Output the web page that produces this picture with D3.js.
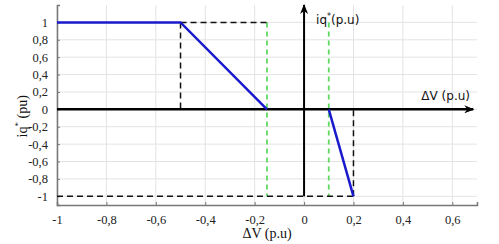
<!DOCTYPE html>
<html>
<head>
<meta charset="utf-8">
<script src="https://cdn.jsdelivr.net/npm/d3@7"></script>
<style>
  body { margin: 0; background: #fff; }
  svg { display: block; }
  .serif { font-family: "Liberation Serif", "Times New Roman", Times, "DejaVu Serif", serif; }
</style>
</head>
<body>
<div id="chart"></div>
<script>
// tick values
const xTicks = [-1, -0.8, -0.6, -0.4, -0.2, 0, 0.2, 0.4, 0.6];
const yTicks = [-1, -0.8, -0.6, -0.4, -0.2, 0, 0.2, 0.4, 0.6, 0.8, 1];

// characteristic iq*(dV)
const curveLeft = [{x: -1, y: 1}, {x: -0.5, y: 1}, {x: -0.15, y: 0}];
const curveRight = [{x: 0.1, y: 0}, {x: 0.2, y: -1}];

// black dashed guides
const guides = [
    [{x: -0.5, y: 1}, {x: -0.15, y: 1}],
    [{x: -0.5, y: 1}, {x: -0.5, y: 0}],
    [{x: -1, y: -1}, {x: 0.2, y: -1}],
    [{x: 0.2, y: -1}, {x: 0.2, y: 0}]
];
// green dashed limits
const limits = [-0.15, 0.1];

const fmt = d => String(d).replace(".", ",");

const margin = {top: 5, right: 22, bottom: 39, left: 57};
const W = 499, H = 244;
const width = W - margin.left - margin.right;
const height = H - margin.top - margin.bottom;

const svg = d3.select("#chart").append("svg")
    .attr("width", W).attr("height", H)
    .append("g")
    .attr("transform", `translate(${margin.left},${margin.top})`);

const x = d3.scaleLinear().domain([-1, 0.7]).range([0, width]);
const y = d3.scaleLinear().domain([-1.1, 1.2]).range([height, 0]);

// grid
svg.append("g").selectAll("line").data(xTicks).join("line")
    .attr("x1", d => x(d)).attr("x2", d => x(d))
    .attr("y1", 0).attr("y2", height)
    .attr("stroke", "#e3e3e3").attr("stroke-width", 1);
svg.append("g").selectAll("line").data(yTicks).join("line")
    .attr("x1", 0).attr("x2", width)
    .attr("y1", d => y(d)).attr("y2", d => y(d))
    .attr("stroke", "#e3e3e3").attr("stroke-width", 1);

// axes
const xAxis = svg.append("g")
    .attr("transform", `translate(0,${height})`)
    .call(d3.axisBottom(x).tickValues(xTicks).tickFormat(fmt).tickSize(-3).tickPadding(10));
const yAxis = svg.append("g")
    .call(d3.axisLeft(y).tickValues(yTicks).tickFormat(fmt).tickSize(-3).tickPadding(9));
[xAxis, yAxis].forEach(a => {
    a.attr("font-family", null).attr("font-size", null);
    a.select(".domain").attr("stroke", "#777").attr("stroke-width", 1.5);
    a.selectAll(".tick line").attr("stroke", "#777");
    a.selectAll("text")
        .attr("class", "serif")
        .style("font-size", "12.5px")
        .attr("fill", "#222");
});

const line = d3.line().x(d => x(d.x)).y(d => y(d.y));

// green dashed
svg.append("g").selectAll("line").data(limits).join("line")
    .attr("x1", d => x(d)).attr("x2", d => x(d))
    .attr("y1", y(1)).attr("y2", y(-1))
    .attr("stroke", "#5fd95f").attr("stroke-width", 1.8)
    .attr("stroke-dasharray", "5,4");

// black dashed
svg.append("g").selectAll("path").data(guides).join("path")
    .attr("d", line)
    .attr("fill", "none")
    .attr("stroke", "#111").attr("stroke-width", 1.5)
    .attr("stroke-dasharray", "6,4");

// arrow marker
const defs = d3.select("svg").append("defs");
defs.append("marker")
    .attr("id", "arrow")
    .attr("viewBox", "0 0 10 8")
    .attr("refX", 9).attr("refY", 4)
    .attr("markerWidth", 10).attr("markerHeight", 8)
    .attr("markerUnits", "userSpaceOnUse")
    .attr("orient", "auto")
    .append("path")
    .attr("d", "M0,0 L10,4 L0,8 L3,4 Z")
    .attr("fill", "#000");

// central axes with arrows
svg.append("line")
    .attr("x1", x(-1)).attr("x2", x(0.685))
    .attr("y1", y(0)).attr("y2", y(0))
    .attr("stroke", "#000").attr("stroke-width", 2.5)
    .attr("marker-end", "url(#arrow)");
svg.append("line")
    .attr("x1", x(0)).attr("x2", x(0))
    .attr("y1", y(-1)).attr("y2", y(1.2))
    .attr("stroke", "#000").attr("stroke-width", 2)
    .attr("marker-end", "url(#arrow)");

// blue characteristic
[curveLeft, curveRight].forEach(c => {
    svg.append("path")
        .datum(c)
        .attr("d", line)
        .attr("fill", "none")
        .attr("stroke", "#1a1acc")
        .attr("stroke-width", 2.5);
});

// axis labels inside the plot
const sans = "DejaVu Sans, sans-serif";
const tIq = svg.append("text")
    .attr("x", x(0) + 12).attr("y", 19)
    .attr("font-family", sans).attr("font-size", "12px").attr("fill", "#111");
tIq.append("tspan").text("iq");
tIq.append("tspan").attr("dy", -5).attr("font-size", "8px").text("*");
tIq.append("tspan").attr("dy", 5).text("(p.u)");

svg.append("text")
    .attr("x", width - 7).attr("y", y(0) - 9)
    .attr("text-anchor", "end")
    .attr("font-family", sans).attr("font-size", "12px").attr("fill", "#111")
    .text("ΔV (p.u)");

// outer axis titles
svg.append("text")
    .attr("class", "serif")
    .attr("x", 210).attr("y", height + 33)
    .attr("text-anchor", "middle")
    .style("font-size", "14px").attr("fill", "#111")
    .text("ΔV (p.u)");

const yt = svg.append("text")
    .attr("class", "serif")
    .attr("transform", `translate(${27 - margin.left},${y(-0.08)}) rotate(-90)`)
    .attr("text-anchor", "middle")
    .style("font-size", "14px").attr("fill", "#111");
yt.append("tspan").text("iq");
yt.append("tspan").attr("dy", -6).style("font-size", "9px").text("*");
yt.append("tspan").attr("dy", 6).text(" (pu)");
</script>
</body>
</html>
